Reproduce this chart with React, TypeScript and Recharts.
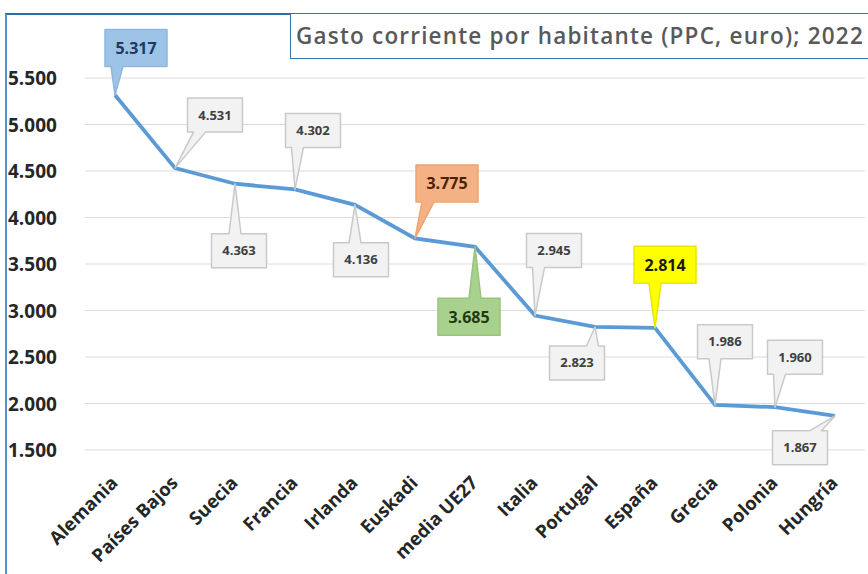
import React from "react";
import { LineChart, Line, XAxis, YAxis, CartesianGrid } from "recharts";

const categories = [
  "Alemania",
  "Países Bajos",
  "Suecia",
  "Francia",
  "Irlanda",
  "Euskadi",
  "media UE27",
  "Italia",
  "Portugal",
  "España",
  "Grecia",
  "Polonia",
  "Hungría",
];
const gasto = [5317, 4531, 4363, 4302, 4136, 3775, 3685, 2945, 2823, 2814, 1986, 1960, 1867];
const yTicks = [1500, 2000, 2500, 3000, 3500, 4000, 4500, 5000, 5500];

const data = categories.map((c, i) => ({ pais: c, gasto: gasto[i] }));

// where each callout box sits, relative to its point (dx, dy of box centre)
const calloutOffsets: [number, number][] = [
  [21, -47], [40, -53], [4, 67], [18, -59], [6, 55], [32, -55], [-6, 70],
  [19, -65], [-18, 36], [10, -63], [10, -63], [20, -50], [-35, 32],
];

const highlight: Record<string, { fill: string; stroke: string; text: string }> = {
  Alemania: { fill: "#9dc3e6", stroke: "#8fb6de", text: "#1f3864" },
  Euskadi: { fill: "#f4b183", stroke: "#eea472", text: "#4a2208" },
  "media UE27": { fill: "#a9d18e", stroke: "#98c47b", text: "#1e3a12" },
  España: { fill: "#ffff00", stroke: "#e8e800", text: "#1a1a1a" },
};

const fmt = (v: number) => String(v).replace(/\B(?=(\d{3})+(?!\d))/g, ".");
const FONT = "'Open Sans', 'Noto Sans', sans-serif";

function Callout(props: any) {
  const { x, y, value, index } = props;
  if (x == null || y == null) return null;
  const name = categories[index];
  const hl = highlight[name];
  const w = hl ? 62 : 55;
  const h = hl ? 37 : 34;
  const [dx, dy] = calloutOffsets[index];
  const cx = x + dx;
  const cy = y + dy;
  const l = cx - w / 2;
  const r = cx + w / 2;
  const t = cy - h / 2;
  const b = cy + h / 2;
  const bc = Math.min(Math.max(x, l + 12), r - 12);
  const b1 = bc - 6;
  const b2 = bc + 6;
  const above = cy < y;
  const path = above
    ? `M${l},${t} L${r},${t} L${r},${b} L${b2},${b} L${x},${y} L${b1},${b} L${l},${b} Z`
    : `M${l},${t} L${b1},${t} L${x},${y} L${b2},${t} L${r},${t} L${r},${b} L${l},${b} Z`;
  const fill = hl ? hl.fill : "#f2f2f2";
  const stroke = hl ? hl.stroke : "#c9c9c9";
  return (
    <g>
      <path d={path} fill={fill} stroke={stroke} strokeWidth={1.5} strokeLinejoin="round" />
      <text
        x={cx}
        y={cy}
        dy={hl ? 6 : 4.5}
        textAnchor="middle"
        fontFamily={FONT}
        fontWeight={700}
        fontSize={hl ? 16 : 13}
        fill={hl ? hl.text : "#404040"}
      >
        {fmt(value)}
      </text>
    </g>
  );
}

function YTick(props: any) {
  const { y, payload } = props;
  return (
    <text x={8} y={y} dy={7} textAnchor="start" fontFamily={FONT} fontWeight={700} fontSize={19} fill="#262626">
      {fmt(payload.value)}
    </text>
  );
}

function XTick(props: any) {
  const { x, y, payload } = props;
  return (
    <g transform={`translate(${x + 4},${y + 26}) rotate(-45)`}>
      <text x={0} y={0} textAnchor="end" fontFamily={FONT} fontWeight={700} fontSize={18.5} fill="#262626">
        {payload.value}
      </text>
    </g>
  );
}

export default function App() {
  return (
    <div style={{ position: "absolute", left: 0, top: 0, width: 868, height: 574, overflow: "hidden", background: "#fff" }}>
      <div
        style={{
          position: "absolute",
          left: 5,
          top: 13,
          width: 900,
          height: 600,
          borderLeft: "2px solid #5b8fc9",
          borderTop: "2px solid #2e6da4",
        }}
      />
      <LineChart
        width={868}
        height={574}
        data={data}
        margin={{ top: 78, right: 3, bottom: 0, left: 0 }}
        style={{ position: "absolute", left: 0, top: 0 }}
      >
        <CartesianGrid vertical={false} stroke="#dcdcdc" strokeWidth={1.2} />
        <XAxis
          dataKey="pais"
          interval={0}
          padding={{ left: 30, right: 30 }}
          axisLine={false}
          tickLine={false}
          height={124}
          tick={<XTick />}
        />
        <YAxis
          domain={[1500, 5500]}
          ticks={yTicks}
          width={85}
          axisLine={false}
          tickLine={false}
          tick={<YTick />}
        />
        <Line
          type="linear"
          dataKey="gasto"
          stroke="#5b9bd5"
          strokeWidth={3.8}
          dot={false}
          isAnimationActive={false}
          label={<Callout />}
        />
      </LineChart>
      <div
        style={{
          position: "absolute",
          left: 290,
          top: 13,
          width: 620,
          height: 46,
          border: "1.5px solid #2e75b6",
          background: "#fff",
          boxSizing: "border-box",
          fontFamily: FONT,
          fontSize: 22.5,
          fontWeight: 600,
          letterSpacing: 1.2,
          color: "#595959",
          lineHeight: "44px",
          paddingLeft: 5,
          whiteSpace: "nowrap",
        }}
      >
        Gasto corriente por habitante (PPC, euro); 2022
      </div>
    </div>
  );
}
